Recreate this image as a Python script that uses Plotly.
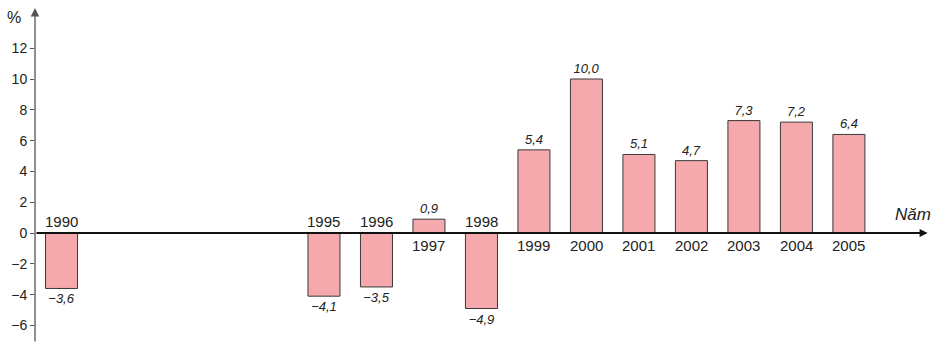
import plotly.graph_objects as go

years = [1990, 1995, 1996, 1997, 1998, 1999, 2000, 2001, 2002, 2003, 2004, 2005]
growth = [-3.6, -4.1, -3.5, 0.9, -4.9, 5.4, 10.0, 5.1, 4.7, 7.3, 7.2, 6.4]
y_ticks = [-6, -4, -2, 0, 2, 4, 6, 8, 10, 12]

def fmt(v):
    return f"{v:.1f}".replace(".", ",").replace("-", "\u2212")

FONT = "Liberation Sans, Arial, sans-serif"
TXT = "#222222"

x_min, x_max = 1989.495, 2006.64
y_min, y_max = -7.14, 14.61

fig = go.Figure()
fig.add_trace(go.Bar(
    x=years, y=growth, width=0.61,
    marker=dict(color="#F5A9AC", line=dict(color="#3a3a3a", width=1)),
    text=[fmt(v) for v in growth], textposition="outside",
    textfont=dict(family=FONT, size=13, color=TXT, style="italic"),
    constraintext="none", cliponaxis=False, hoverinfo="skip",
))

annotations = []
for yr, v in zip(years, growth):
    annotations.append(dict(
        x=yr, y=0, xref="x", yref="y", text=str(yr), showarrow=False,
        yanchor="bottom" if v < 0 else "top",
        yshift=1 if v < 0 else -2,
        font=dict(family=FONT, size=15, color=TXT),
    ))

# x axis (zero line) with arrow
annotations.append(dict(
    x=2006.5, y=0, ax=x_min, ay=0, xref="x", yref="y", axref="x", ayref="y",
    text="", showarrow=True, arrowhead=2, arrowsize=0.8, arrowwidth=2,
    arrowcolor="#111111", standoff=0,
))
# y axis with arrow
annotations.append(dict(
    x=x_min, y=y_max, ax=x_min, ay=y_min, xref="x", yref="y", axref="x", ayref="y",
    text="", showarrow=True, arrowhead=2, arrowsize=1.3, arrowwidth=1.3,
    arrowcolor="#555555", standoff=0,
))
annotations.append(dict(
    x=2006.6, y=0.45, xref="x", yref="y", text="Năm", showarrow=False,
    xanchor="right", yanchor="bottom",
    font=dict(family=FONT, size=17, color=TXT, style="italic"),
))
annotations.append(dict(
    x=-0.023, y=0.973, xref="paper", yref="paper", text="%", showarrow=False,
    xanchor="center", yanchor="middle",
    font=dict(family=FONT, size=16, color=TXT),
))

fig.update_layout(
    width=946, height=352,
    margin=dict(l=35, r=11, t=8, b=9),
    paper_bgcolor="white", plot_bgcolor="white",
    showlegend=False,
    annotations=annotations,
    xaxis=dict(range=[x_min, x_max], visible=False, showgrid=False, zeroline=False),
    yaxis=dict(
        range=[y_min, y_max], showgrid=False, zeroline=False, showline=False,
        tickvals=y_ticks, ticktext=[str(t).replace("-", "\u2212") for t in y_ticks],
        ticks="outside", ticklen=4, tickcolor="#555555", tickwidth=1,
        tickfont=dict(family=FONT, size=14, color=TXT),
    ),
)

fig.write_html("out.html")
